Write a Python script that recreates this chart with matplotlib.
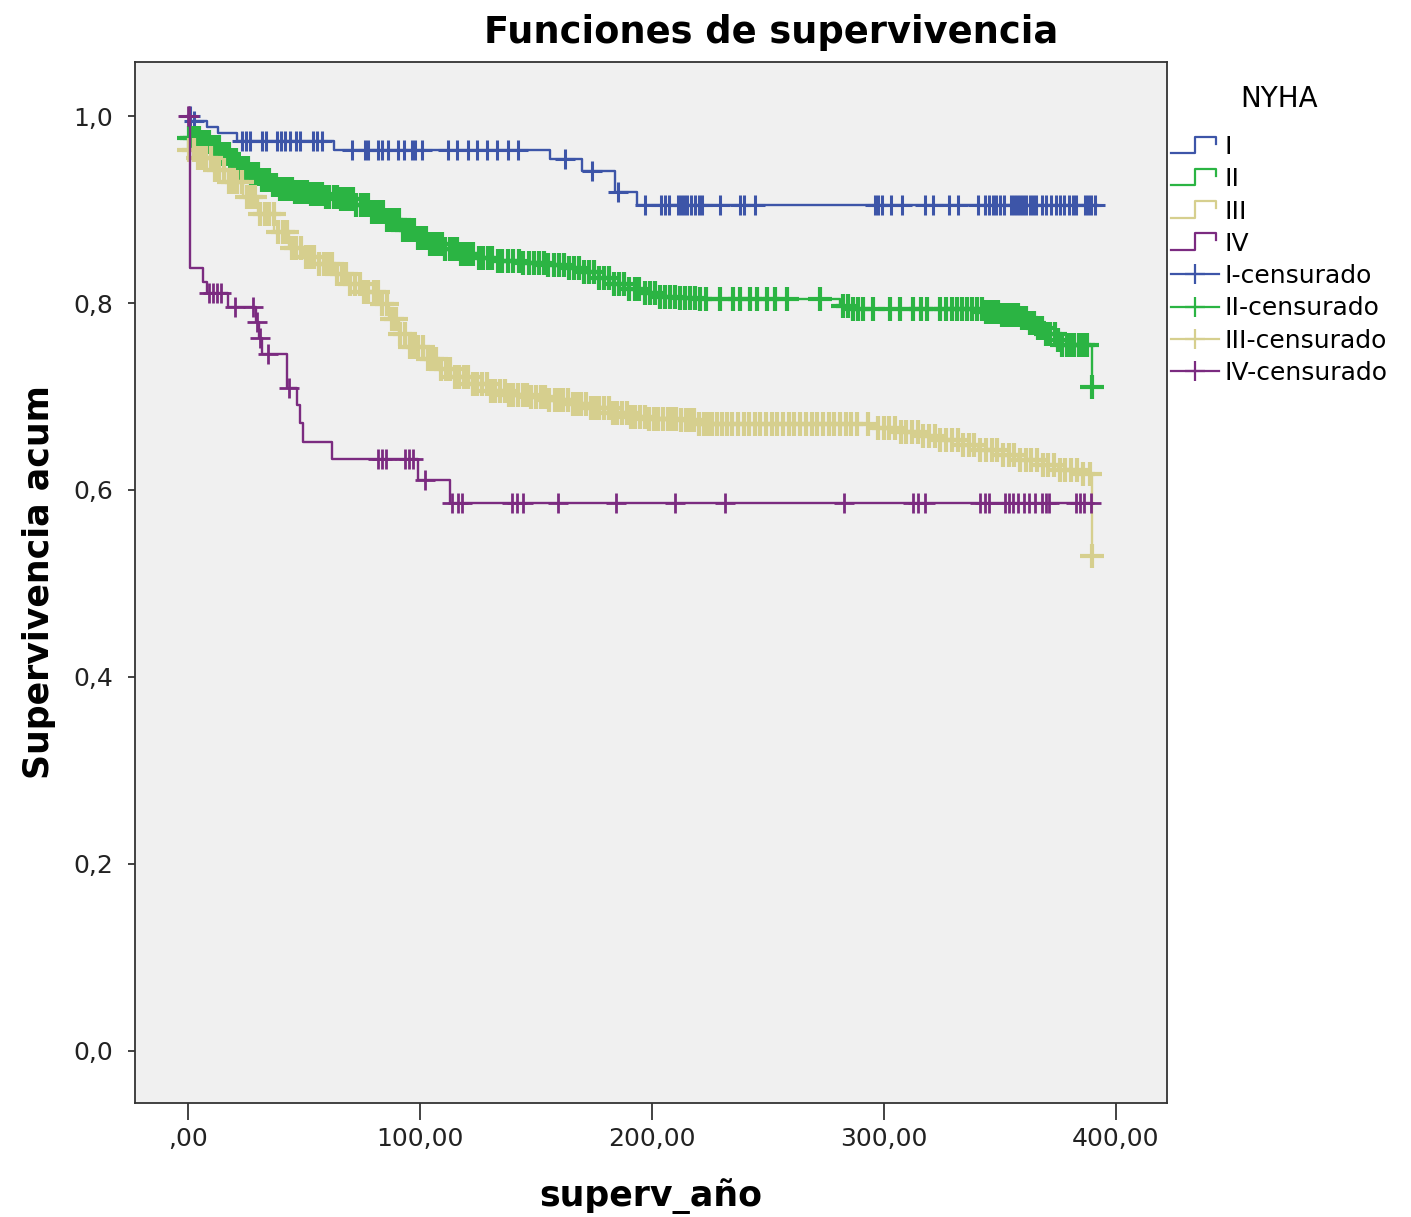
import numpy as np
import matplotlib
matplotlib.use("Agg")
from matplotlib import pyplot as plt
from matplotlib.lines import Line2D
from matplotlib.legend_handler import HandlerBase

# Kaplan-Meier estimates by NYHA class: event times, survival after each event,
# censoring times
I_t = [0, 1, 8.2, 12.9, 21, 63, 156, 170, 184, 193.5]
I_s = [1.0, 0.995, 0.988, 0.982, 0.973, 0.964, 0.954, 0.941, 0.919, 0.905]
I_end = 392
I_cens = [0.9, 2.6, 23.3, 25, 26.7, 31.9, 33.6, 38.4, 40.1, 41.8, 44, 46.6, 48.3, 53.9,
          55.6, 57.8, 70.7, 76.3, 77.6, 81.9, 83.6, 86.2, 90.5, 93, 96.6, 97.8, 100.9,
          112, 115.9, 120.7, 124.6, 128.9, 133.2, 138, 142.2, 162.5, 174.1, 185.3, 197,
          203.9, 205.6, 207.3, 211.2, 212.5, 213.8, 215.1, 216.8, 218.5, 220.3, 221.6,
          229.3, 237.9, 239.7, 244.4, 296.1, 297.4, 299.1, 303, 307.8, 317.7, 321.1, 328,
          331.9, 340.5, 343.5, 345.3, 347, 348.3, 350, 351.7, 354.7, 356, 357.3, 358.6,
          359.9, 361.2, 362.9, 364.2, 365.5, 368.1, 369.8, 372, 374.1, 375.9, 377.6,
          379.7, 381.5, 382.8, 386.6, 387.9, 389.2, 390.9]

II_t = [0, 5.2, 9.5, 13.8, 18.1, 22.4, 26.7, 31, 35.3, 39.7, 46.1, 52.6, 59, 65.5, 72,
        78.4, 84.9, 91.4, 97.8, 104.3, 110.8, 117.2, 123.7, 132.3, 143.1, 153.9, 162.5,
        169, 175.4, 181.9, 188.4, 194.8, 203.4, 212, 220.7, 281, 285.3, 343.5, 350,
        358.6, 362.9, 366.4, 369.4, 373.7, 376.7, 389.7]
II_s = [0.977, 0.972, 0.967, 0.960, 0.953, 0.944, 0.938, 0.932, 0.926, 0.922, 0.919,
        0.917, 0.914, 0.911, 0.905, 0.897, 0.889, 0.878, 0.870, 0.863, 0.858, 0.852,
        0.848, 0.845, 0.843, 0.841, 0.837, 0.833, 0.827, 0.820, 0.815, 0.811, 0.807,
        0.805, 0.804, 0.797, 0.794, 0.790, 0.787, 0.784, 0.779, 0.773, 0.767, 0.760,
        0.755, 0.710]
II_end = 389.7
II_cens = [0.4, 1.8, 3.1, 4.6, 6.2, 7.5, 9.1, 10.4, 12.0, 13.3, 14.9, 16.2, 17.8, 19.5,
           20.9, 22.6, 24.0, 25.7, 27.1, 28.8, 30.2, 31.9, 33.5, 35.0, 36.7, 38.1, 39.8,
           41.4, 43.0, 44.7, 46.3, 47.8, 49.6, 51.2, 52.9, 54.5, 56.0, 57.7, 59.4, 61.0,
           62.8, 64.3, 66.1, 67.6, 69.3, 71.0, 72.6, 74.4, 76.0, 77.7, 79.3, 81.0, 82.7,
           84.2, 86.0, 87.6, 89.3, 91.0, 92.5, 94.3, 96.0, 97.6, 99.3, 101.0, 102.6,
           104.4, 106.0, 107.7, 109.3, 111.0, 112.8, 114.4, 116.0, 117.8, 119.5, 121.2,
           123.0, 125.3, 127.0, 129.5, 131.2, 133.8, 135.5, 138.0, 140.2, 142.5, 144.3,
           146.9, 149.0, 151.2, 153.5, 155.3, 157.8, 160.0, 162.1, 164.4, 166.2, 168.5,
           170.6, 172.8, 174.9, 177.1, 179.3, 181.5, 183.6, 185.8, 188.0, 190.2, 192.5,
           194.6, 196.8, 199.0, 201.2, 203.5, 205.6, 207.8, 210.0, 212.1, 214.3, 216.6,
           218.7, 220.9, 223.2, 229.3, 234.9, 237.9, 242.2, 245.3, 249.6, 253, 258.2,
           272.4, 282.3, 284.5, 286.6, 288.8, 291, 295.3, 302.6, 306.9, 312.5, 315.9,
           318.5, 324.1, 326.7, 329.3, 331.5, 333.6, 335.8, 338, 340.1, 342.2, 344.0,
           345.7, 347.5, 349.2, 351.0, 352.7, 354.4, 356.1, 357.9, 359.6, 361.3, 363.1,
           364.8, 366.5, 368.3, 370.0, 371.7, 373.5, 375.2, 376.9, 378.7, 380.4, 382.1,
           383.9, 385.6, 387.3, 389.7]

III_t = [0, 4, 10.8, 17.2, 23.7, 30.2, 37.1, 43.5, 50, 56.5, 62.9, 69.4, 75.9, 82.3,
         86.6, 90.9, 95.3, 101.7, 108.2, 114.7, 121.1, 129.7, 138.4, 147, 155.6, 164.2,
         172.8, 181.5, 190.1, 198.7, 211.6, 220.3, 297.4, 306, 314.7, 323.3, 331.9,
         340.5, 349.1, 357.8, 366.4, 375, 383.6, 389.7]
III_s = [0.964, 0.955, 0.942, 0.929, 0.913, 0.895, 0.876, 0.859, 0.849, 0.842, 0.831,
         0.820, 0.812, 0.799, 0.783, 0.767, 0.753, 0.740, 0.729, 0.721, 0.713, 0.706,
         0.702, 0.699, 0.696, 0.692, 0.688, 0.682, 0.678, 0.676, 0.675, 0.671, 0.666,
         0.662, 0.658, 0.653, 0.648, 0.643, 0.637, 0.632, 0.627, 0.621, 0.617, 0.529]
III_end = 389.7
III_cens = [0.6, 2.4, 4.3, 6.1, 8.0, 9.8, 11.7, 13.5, 15.4, 17.6, 19.5, 21.3, 23.2, 25.4,
            27.3, 29.1, 31.0, 33.2, 35.1, 37.0, 38.8, 41.0, 42.9, 44.8, 46.6, 48.8, 50.7,
            52.6, 54.4, 56.6, 58.5, 60.3, 62.2, 64.4, 66.3, 68.1, 70.0, 72.2, 74.1, 75.9,
            77.8, 80.0, 81.9, 83.7, 85.6, 87.8, 89.7, 91.5, 93.4, 95.6, 97.5, 99.3, 101.2,
            103.4, 105.3, 107.1, 109.0, 111.2, 113.1, 115.0, 116.8, 119.0, 120.9, 122.8,
            124.6, 126.8, 128.7, 130.5, 132.4, 134.6, 136.5, 138.4, 140.2, 142.4, 144.3,
            146.2, 148.0, 150.2, 152.1, 154.0, 155.8, 158.0, 159.9, 161.7, 163.6, 165.8,
            167.7, 169.5, 171.4, 173.6, 175.5, 177.3, 179.2, 181.4, 183.3, 185.1, 187.0,
            189.2, 191.1, 192.9, 194.8, 197.0, 198.9, 200.7, 202.6, 204.8, 206.7, 208.5,
            210.4, 212.6, 214.5, 216.3, 218.2, 220.4, 222.3, 224.1, 226.0, 228.2, 230.1,
            232.4, 234.6, 237.0, 239.5, 241.8, 244.3, 246.7, 249.2, 251.6, 254.1, 256.5,
            259.0, 261.4, 263.9, 266.3, 268.8, 271.2, 273.7, 276.1, 278.6, 281.0, 283.5,
            286.0, 288.4, 293.0, 297.4, 299.8, 302.3, 304.7, 307.2, 309.6, 312.1, 314.5,
            317.0, 319.4, 321.9, 324.3, 326.8, 329.2, 331.7, 334.1, 336.6, 339.0, 341.5,
            343.9, 346.4, 348.8, 351.3, 353.7, 356.2, 358.6, 361.1, 363.5, 366.0, 368.4,
            370.9, 373.3, 375.8, 378.2, 380.7, 383.1, 385.6, 389.0, 389.7]

IV_t = [0, 1.0, 6.5, 8.2, 17.2, 29.3, 30.6, 31.9, 42.7, 47, 48.3, 49.6, 62, 99, 113]
IV_s = [1.0, 0.838, 0.822, 0.811, 0.796, 0.780, 0.763, 0.746, 0.709, 0.691, 0.672,
        0.651, 0.633, 0.611, 0.586]
IV_end = 389.6
IV_cens = [0.0, 0.6, 9, 10.8, 12.5, 14.2, 20.3, 28, 29.7, 31.2, 34.5, 43.5, 81.9, 83.6,
           85.3, 93.5, 95.3, 97, 102.2, 113.8, 116.4, 118.1, 139.7, 141.8, 144.4, 159.5,
           184.5, 209.9, 231.5, 282.8, 312.5, 314.7, 317.7, 341.4, 343.5, 345.3, 352.2,
           353.9, 355.6, 357.8, 360.3, 362.5, 365.1, 368.1, 369.8, 371.1, 382.8, 384.5,
           386.2, 389.2]

groups = ["I", "II", "III", "IV"]
colors = ["#3d55a8", "#2bb443", "#d6cf8e", "#7b2b80"]
mark_widths = [2.2, 3.0, 3.0, 2.0]
mark_sizes = [15, 17, 17, 15]

x_ticks = [0, 100, 200, 300, 400]
x_ticklabels = [",00", "100,00", "200,00", "300,00", "400,00"]
y_ticks = [0.0, 0.2, 0.4, 0.6, 0.8, 1.0]
y_ticklabels = ["0,0", "0,2", "0,4", "0,6", "0,8", "1,0"]

curves = [(I_t, I_s, I_end, I_cens), (II_t, II_s, II_end, II_cens),
          (III_t, III_s, III_end, III_cens), (IV_t, IV_s, IV_end, IV_cens)]


class HandlerStep(HandlerBase):
    """Small staircase icon for the survival lines in the legend."""

    def create_artists(self, legend, orig_handle, xdescent, ydescent, width, height,
                       fontsize, trans):
        xs = np.array([0.0, 0.5, 0.5, 0.95, 0.95]) * width - xdescent
        ys = np.array([0.05, 0.05, 1.0, 1.0, 0.6]) * height - ydescent
        ln = Line2D(xs, ys, color=orig_handle.get_color(),
                    lw=orig_handle.get_linewidth(), transform=trans)
        return [ln]


plt.rcParams["font.family"] = ["DejaVu Sans"]
fig = plt.figure(figsize=(14.11, 12.17), dpi=100)
ax = fig.add_axes([0.0957, 0.0937, 0.7314, 0.8554])
ax.set_facecolor("#f0f0f0")

for name, (t, s, t_end, cens), col, mw, ms in zip(groups, curves, colors,
                                                   mark_widths, mark_sizes):
    t = np.asarray(t, dtype=float)
    s = np.asarray(s, dtype=float)
    xs = np.append(t, t_end)
    ys = np.append(s, s[-1])
    ax.step(xs, ys, where="post", color=col, lw=1.7)
    cens = np.asarray(cens, dtype=float)
    idx = np.searchsorted(t, cens, side="right") - 1
    ax.plot(cens, s[idx], linestyle="none", marker="+", markersize=ms,
            markeredgewidth=mw, color=col)

ax.set_xlim(-22.8, 422)
ax.set_ylim(-0.056, 1.058)
ax.set_xticks(x_ticks)
ax.set_xticklabels(x_ticklabels)
ax.set_yticks(y_ticks)
ax.set_yticklabels(y_ticklabels)
ax.tick_params(axis="x", direction="out", length=12, width=1.2, pad=5,
               labelsize=18, colors="#222222")
ax.tick_params(axis="y", direction="out", length=5, width=1.2, pad=11,
               labelsize=18, colors="#222222")
for sp in ax.spines.values():
    sp.set_linewidth(1.3)
    sp.set_color("#333333")

ax.set_xlabel("superv_año", fontsize=25, fontweight="bold", labelpad=20)
ax.set_ylabel("Supervivencia acum", fontsize=25, fontweight="bold", labelpad=12)
fig.text(0.5464, 0.973, "Funciones de supervivencia", fontsize=26.5,
         fontweight="bold", ha="center", va="center")

legend_lines = [Line2D([], [], color=c, lw=1.6) for c in colors]
legend_marks = [Line2D([], [], color=c, lw=1.6, marker="+", markersize=14,
                       markeredgewidth=1.6) for c in colors]
labels = groups + [g + "-censurado" for g in groups]
leg = ax.legend(legend_lines + legend_marks, labels, loc="upper left",
                bbox_to_anchor=(1.004, 0.978), borderaxespad=0, borderpad=0,
                frameon=False, fontsize=18, title="NYHA", title_fontsize=20,
                handlelength=1.9, handletextpad=0.25, labelspacing=0.33,
                handler_map={l: HandlerStep() for l in legend_lines})
leg._legend_box.sep = 16

fig.savefig("out.png", dpi=100, facecolor="white")
